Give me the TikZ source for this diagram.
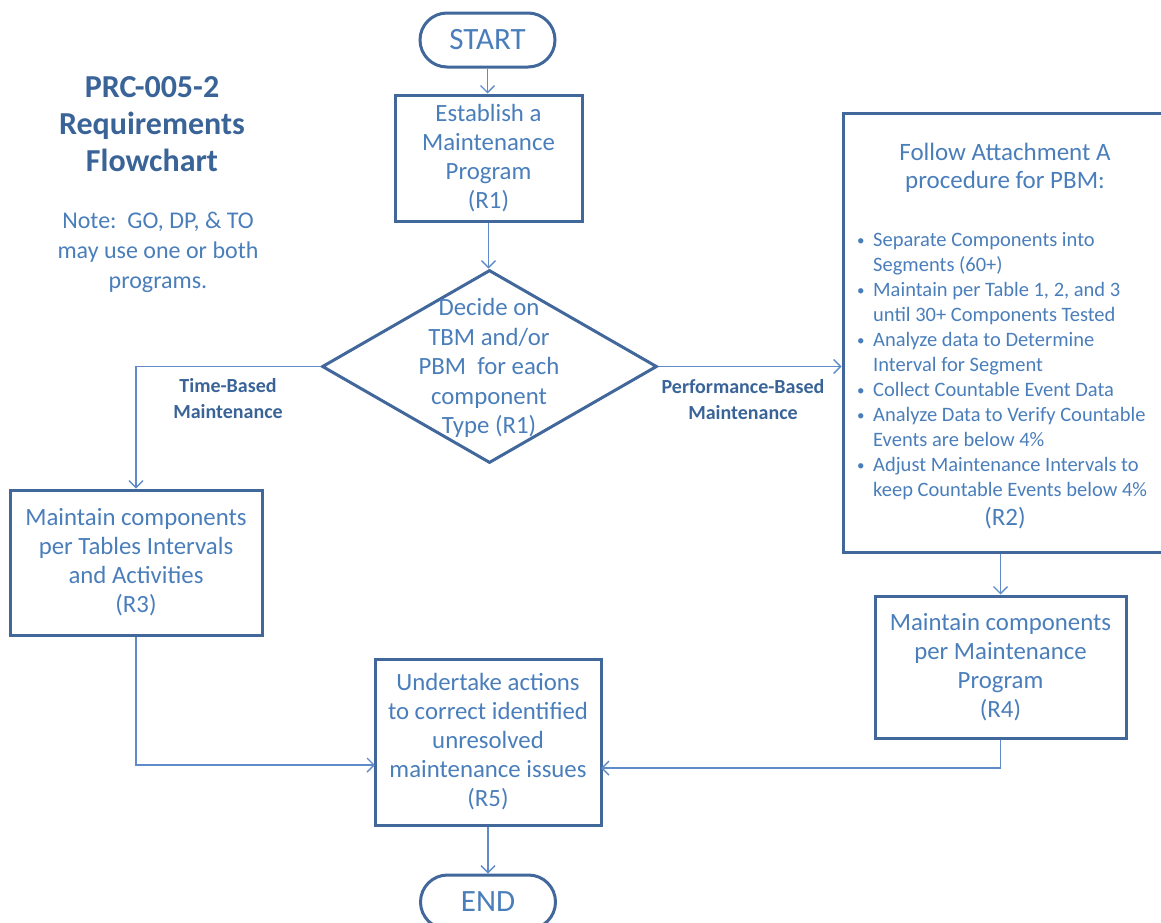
\documentclass[tikz,border=0pt]{standalone}
\usepackage{fontspec}
\setmainfont{Carlito}
\usetikzlibrary{shapes.geometric,arrows.meta}
\definecolor{boxc}{HTML}{41679B}
\definecolor{linec}{HTML}{5F8CC8}
\definecolor{txtc}{HTML}{4A7EBB}
\definecolor{ttlc}{HTML}{3A6498}
\newcommand{\mybul}{\raisebox{1pt}{\fontsize{15}{25}\selectfont\textbullet}}
\begin{document}
\begin{tikzpicture}[x=1pt,y=-1pt,
  box/.style={draw=boxc, line width=3pt, text=txtc, align=center, inner sep=0pt,
    font=\fontsize{24.8}{29}\selectfont},
  term/.style={box, rounded corners=27pt, minimum width=135pt, minimum height=54pt,
    font=\fontsize{31}{36}\selectfont},
  txt/.style={text=txtc, align=center, inner sep=0pt},
  ttl/.style={text=ttlc, align=center, inner sep=0pt},
  lbl/.style={text=ttlc, align=center, inner sep=0pt, font=\bfseries\fontsize{20}{26}\selectfont},
  conn/.style={draw=linec, line width=1.4pt, -{Straight Barb[length=7pt,width=14pt,line width=1.4pt]}}]
\useasboundingbox (0,0) rectangle (1161,922);
\clip (0,0) rectangle (1161,922);

% title and note
\node[ttl, font=\bfseries\fontsize{32}{37}\selectfont] (title) at (152,124) {PRC-005-2\\Requirements\\Flowchart};
\node[txt, font=\fontsize{24}{30}\selectfont] (note) at (158,252) {Note:\ \ GO, DP, \& TO\\may use one or both\\programs.};

% nodes
\node[term] (start) at (487.5,40) {START};
\node[box, minimum width=187pt, minimum height=126pt] (est) at (488.5,158) {Establish a\\Maintenance\\Program\\(R1)};
\node[draw=boxc, line width=3pt, diamond, minimum width=335pt, minimum height=193pt, inner sep=0pt] (dia) at (489.5,366.5) {};
\node[txt, font=\fontsize{24.8}{29.5}\selectfont] (diatext) at (489,368) {Decide on\\TBM and/or\\PBM\ \ for each\\component\\Type (R1)};
\node[box, minimum width=252pt, minimum height=145pt] (tbm) at (136,562.5) {Maintain components\\per Tables Intervals\\and Activities\\(R3)};
\node[box, minimum width=324pt, minimum height=439pt] (pbm) at (1005,332.5) {};
\node[txt, font=\fontsize{25}{28}\selectfont] (pbmt) at (1005,168) {Follow Attachment A\\procedure for PBM:};
\node[txt, anchor=base west, align=left, font=\fontsize{20.5}{25}\selectfont] (pbmlist) at (857,246)
  {\begin{tabular}[t]{@{}p{16pt}@{}l@{}}
   \mybul & Separate Components\ into\\
   & Segments (60+)\\
   \mybul & Maintain per Table 1, 2, and\ 3\\
   & until 30+\ Components\ Tested\\
   \mybul & Analyze data to Determine\\
   & Interval for\ Segment\\
   \mybul & Collect Countable\ Event Data\\
   \mybul & Analyze Data to Verify\ Countable\\
   & Events are below\ 4\%\\
   \mybul & Adjust Maintenance\ Intervals to\\
   & keep Countable\ Events below\ 4\%
  \end{tabular}};
\node[txt, font=\fontsize{25}{28}\selectfont] (r2) at (1005,518) {(R2)};
\node[box, minimum width=251pt, minimum height=142pt] (r4) at (1000.5,667) {Maintain components\\per Maintenance\\Program\\(R4)};
\node[box, minimum width=226pt, minimum height=166pt] (r5) at (488,742) {Undertake actions\\to correct identified\\unresolved\\maintenance issues\\(R5)};
\node[term] (end) at (488,902) {END};

% labels
\node[lbl] (tbml) at (228,399) {Time-Based\\Maintenance};
\node[lbl] (pbml) at (743,400) {Performance-Based\\Maintenance};

% connector ends
\coordinate (r5l) at (375,765);
\coordinate (r5r) at (601,768);

% connectors
\draw[conn] (start.south) -- (start.south |- est.north);
\draw[conn] (est.south) -- (est.south |- dia.north);
\draw[conn] (dia.west) -| (tbm.north);
\draw[conn] (dia.east) -- (pbm.west |- dia.east);
\draw[conn] (r4.north |- pbm.south) -- (r4.north);
\draw[conn] (tbm.south) |- (r5l);
\draw[conn] (r4.south) |- (r5r);
\draw[conn] (r5.south) -- (end.north);
\end{tikzpicture}
\end{document}
